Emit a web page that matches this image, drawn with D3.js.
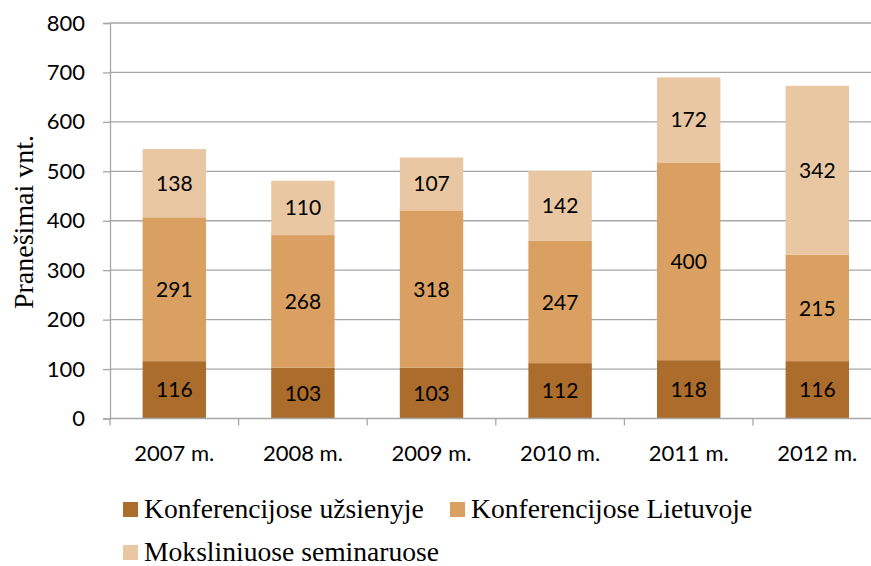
<!DOCTYPE html>
<html>
<head>
<meta charset="utf-8">
<script src="https://cdn.jsdelivr.net/npm/d3@7"></script>
<style>
  body { margin: 0; background: #fff; }
  svg { display: block; }
</style>
</head>
<body>
<div id="chart"></div>
<script>
// duomenys
const years = ["2007 m.", "2008 m.", "2009 m.", "2010 m.", "2011 m.", "2012 m."];
const seriesNames = ["Konferencijose užsienyje", "Konferencijose Lietuvoje", "Moksliniuose seminaruose"];
const abroad = [116, 103, 103, 112, 118, 116];
const lithuania = [291, 268, 318, 247, 400, 215];
const seminars = [138, 110, 107, 142, 172, 342];
const yTicks = [0, 100, 200, 300, 400, 500, 600, 700, 800];
const colors = ["#ab6c2c", "#d9a062", "#e9c7a3"];

const width = 871, height = 566;
const plotLeft = 110, plotRight = 881.6, plotTop = 23, plotBottom = 418.5;
const sansFont = "Lato, 'Open Sans', sans-serif";
const serifFont = "'Liberation Serif', 'Times New Roman', serif";

const svg = d3.select("#chart").append("svg")
    .attr("width", width)
    .attr("height", height);

const x = d3.scaleBand().domain(years).range([plotLeft, plotRight]).paddingInner(0.507).paddingOuter(0.2535);
const y = d3.scaleLinear().domain([0, 800]).range([plotBottom, plotTop]);

const rows = years.map((yr, i) => ({ year: yr, s0: abroad[i], s1: lithuania[i], s2: seminars[i] }));
const stack = d3.stack().keys(["s0", "s1", "s2"]);
const layers = stack(rows);

// gridlines
svg.append("g")
    .selectAll("line")
    .data(yTicks.filter(d => d > 0))
    .enter().append("line")
    .attr("x1", plotLeft).attr("x2", width)
    .attr("y1", d => y(d)).attr("y2", d => y(d))
    .attr("stroke", "#a6a6a6").attr("stroke-width", 1.3);

// y axis
const yAxis = svg.append("g")
    .attr("transform", "translate(" + plotLeft + ",0)")
    .call(d3.axisLeft(y).tickValues(yTicks).tickSize(7).tickPadding(18));
yAxis.select(".domain").attr("stroke", "#a6a6a6").attr("stroke-width", 1.3);
yAxis.selectAll(".tick line").attr("stroke", "#a6a6a6").attr("stroke-width", 1.3);
yAxis.selectAll("text")
    .style("font-family", sansFont)
    .style("font-size", "22px").attr("fill", "#000");

// bars
const g = svg.append("g");
layers.forEach((layer, k) => {
    g.selectAll(".bar" + k)
        .data(layer)
        .enter().append("rect")
        .attr("x", d => x(d.data.year))
        .attr("width", x.bandwidth())
        .attr("y", d => y(d[1]))
        .attr("height", d => y(d[0]) - y(d[1]))
        .attr("fill", colors[k]);
    g.selectAll(".lab" + k)
        .data(layer)
        .enter().append("text")
        .attr("x", d => x(d.data.year) + x.bandwidth() / 2)
        .attr("y", d => (y(d[0]) + y(d[1])) / 2)
        .attr("dy", "0.36em")
        .attr("text-anchor", "middle")
        .style("font-family", sansFont)
        .style("font-size", "21px")
        .text(d => d[1] - d[0]);
});

// x axis
const xAxis = svg.append("g")
    .attr("transform", "translate(0," + plotBottom + ")")
    .call(d3.axisBottom(x).tickSize(0).tickPadding(27));
xAxis.select(".domain").attr("stroke", "#a6a6a6").attr("stroke-width", 1.3)
    .attr("d", "M" + plotLeft + ",0H" + width);
xAxis.selectAll("text")
    .style("font-family", sansFont)
    .style("font-size", "22px").attr("fill", "#000");
// category separators
const step = x.step();
svg.append("g").selectAll("line")
    .data(d3.range(years.length + 1))
    .enter().append("line")
    .attr("x1", i => plotLeft + i * step).attr("x2", i => plotLeft + i * step)
    .attr("y1", plotBottom).attr("y2", plotBottom + 7)
    .attr("stroke", "#a6a6a6").attr("stroke-width", 1.3);

// y title
svg.append("text")
    .attr("transform", "translate(33,222) rotate(-90)")
    .attr("text-anchor", "middle")
    .style("font-family", serifFont)
    .style("font-size", "28px")
    .text("Pranešimai vnt.");

// legend
const legendPos = [[123, 502], [450, 502], [123, 545]];
seriesNames.forEach((name, k) => {
    const [lx, ly] = legendPos[k];
    svg.append("rect")
        .attr("x", lx).attr("y", ly).attr("width", 15).attr("height", 15)
        .attr("fill", colors[k]);
    svg.append("text")
        .attr("x", lx + 21).attr("y", ly + 16)
        .style("font-family", serifFont)
        .style("font-size", "27.6px")
        .text(name);
});
</script>
</body>
</html>
